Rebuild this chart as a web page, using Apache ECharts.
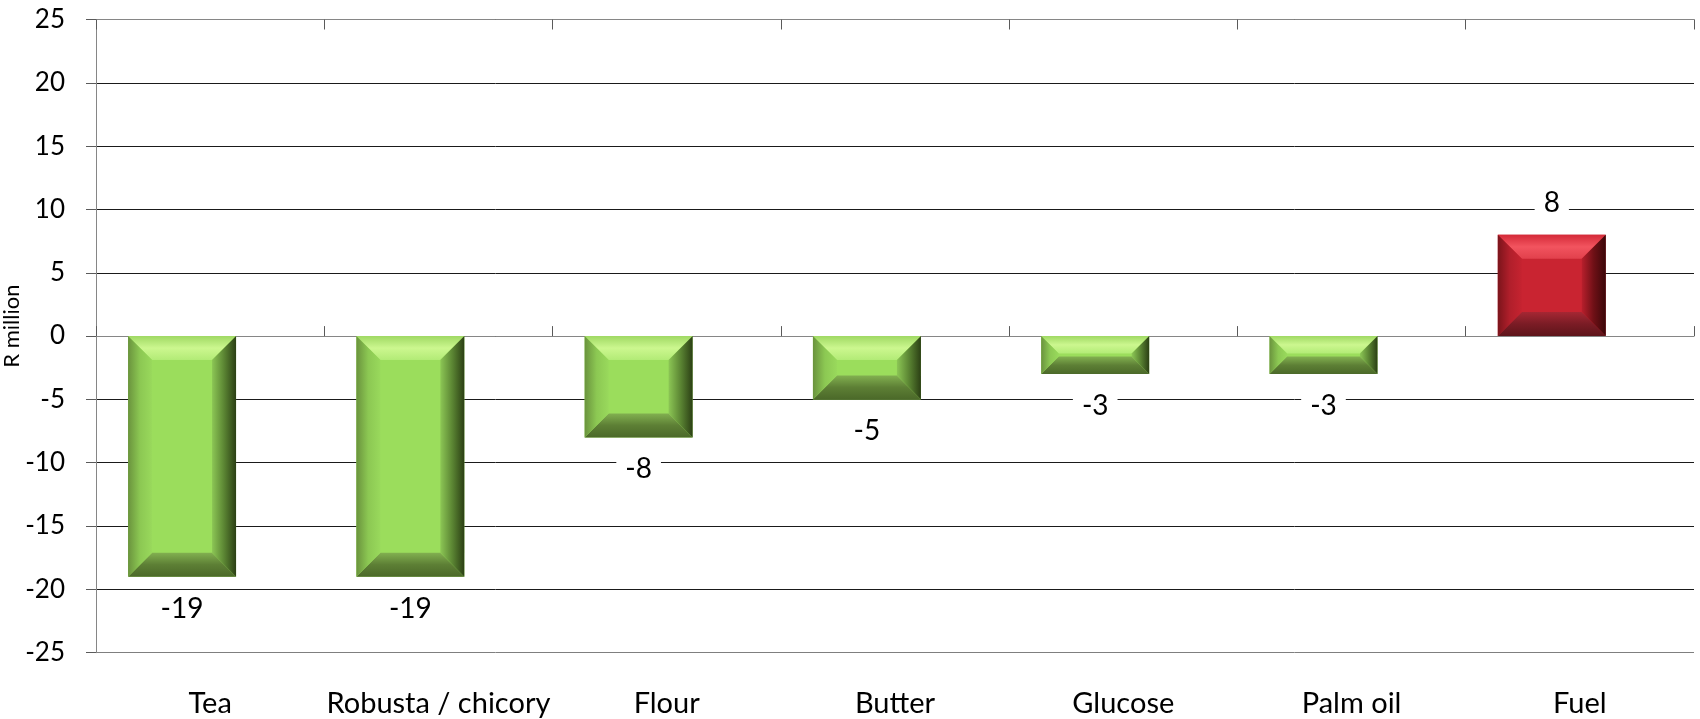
<!DOCTYPE html>
<html>
<head>
<meta charset="utf-8">
<script src="https://cdn.jsdelivr.net/npm/echarts@6/dist/echarts.min.js"></script>
<style>
  html, body { margin: 0; padding: 0; background: #ffffff; }
  #chart { width: 1700px; height: 719px; }
</style>
</head>
<body>
<div id="chart"></div>
<script>
// Year-on-year change in cost per input, R million
const categories = ['Tea', 'Robusta / chicory', 'Flour', 'Butter', 'Glucose', 'Palm oil', 'Fuel'];
const changes = [-19, -19, -8, -5, -3, -3, 8];

// Value axis range and step
const yMin = -25;
const yMax = 25;
const yStep = 5;

const FONT = 'Lato';

// Bevelled bar palettes: savings in green, cost increases in red
const palettes = {
  down: {
    face: '#9bdd5c',
    top: ['#a0d964', '#ccf78f', '#b2eb76'],
    bottom: ['#82b050', '#5d7f35', '#4b6929'],
    left: ['#6a933d', '#8cc853', '#99d95c'],
    right: ['#8cc655', '#5b8533', '#2b3f14']
  },
  up: {
    face: '#c92431',
    top: ['#d42a38', '#f2545f', '#e1404c'],
    bottom: ['#a52733', '#7a1c25', '#5e141a'],
    left: ['#7b141b', '#b11f2b', '#c62330'],
    right: ['#b81f2c', '#6e1016', '#3a0709']
  }
};

function grad(x0, y0, x1, y1, cols) {
  const n = cols.length - 1;
  return new echarts.graphic.LinearGradient(x0, y0, x1, y1,
    cols.map((c, i) => ({ offset: i / n, color: c })));
}

function renderBevelBar(params, api) {
  const idx = api.value(0);
  const v = api.value(1);
  const band = api.size([1, 0])[0];
  const end = api.coord([idx, v]);
  const base = api.coord([idx, 0]);
  const w = band * 0.473;
  const cx = end[0] - band * 0.123;
  const x = cx - w / 2;
  const y = Math.min(end[1], base[1]);
  const h = Math.abs(end[1] - base[1]);
  const b = Math.min(24, h * 0.46, w * 0.46);
  const p = v >= 0 ? palettes.up : palettes.down;

  const children = [
    { type: 'rect', shape: { x: x, y: y, width: w, height: h }, style: { fill: p.face } },
    { type: 'polygon', shape: { points: [[x, y], [x + w, y], [x + w - b, y + b], [x + b, y + b]] },
      style: { fill: grad(0, 0, 0, 1, p.top) } },
    { type: 'polygon', shape: { points: [[x + b, y + h - b], [x + w - b, y + h - b], [x + w, y + h], [x, y + h]] },
      style: { fill: grad(0, 0, 0, 1, p.bottom) } },
    { type: 'polygon', shape: { points: [[x, y], [x + b, y + b], [x + b, y + h - b], [x, y + h]] },
      style: { fill: grad(0, 0, 1, 0, p.left) } },
    { type: 'polygon', shape: { points: [[x + w - b, y + b], [x + w, y], [x + w, y + h], [x + w - b, y + h - b]] },
      style: { fill: grad(0, 0, 1, 0, p.right) } },
    { type: 'text',
      style: {
        text: String(v),
        x: cx,
        y: v < 0 ? y + h + 32 : y - 32,
        align: 'center',
        verticalAlign: 'middle',
        font: '28px ' + FONT,
        fill: '#000000',
        backgroundColor: '#ffffff',
        padding: [3, 9]
      } }
  ];
  return { type: 'group', children: children };
}

const gridLineColors = [];
for (let t = yMin; t <= yMax; t += yStep) {
  gridLineColors.push(t === yMin ? '#7f7f7f' : '#1a1a1a');
}

const chart = echarts.init(document.getElementById('chart'), null, { renderer: 'canvas' });

chart.setOption({
  animation: false,
  backgroundColor: '#ffffff',
  grid: { left: 96, right: 6, top: 19.5, bottom: 66.3, outerBoundsMode: 'none' },
  xAxis: [
    {
      type: 'category',
      data: categories,
      position: 'bottom',
      axisLine: { show: false, onZero: false },
      axisTick: { show: false },
      axisLabel: { interval: 0, margin: 36, fontSize: 29, fontFamily: FONT, color: '#000000' }
    },
    {
      type: 'category',
      data: categories,
      position: 'top',
      axisLine: { show: true, onZero: true, lineStyle: { color: '#868686', width: 1 } },
      axisTick: { show: true, length: 10, lineStyle: { color: '#5a5a5a' } },
      axisLabel: { show: false }
    },
    {
      type: 'category',
      data: categories,
      position: 'top',
      axisLine: { show: true, onZero: true, lineStyle: { color: '#868686', width: 1 } },
      axisTick: { show: true, inside: true, length: 10, lineStyle: { color: '#5a5a5a' } },
      axisLabel: { show: false }
    }
  ],
  yAxis: {
    type: 'value',
    min: yMin,
    max: yMax,
    interval: yStep,
    name: 'R million',
    nameLocation: 'middle',
    nameRotate: 90,
    nameGap: 73,
    nameMoveOverlap: false,
    nameTextStyle: { fontSize: 22, fontFamily: FONT, color: '#000000', padding: [0, 0, 0, 20] },
    axisLine: { show: true, lineStyle: { color: '#868686', width: 1 } },
    axisTick: { show: true, length: 10, lineStyle: { color: '#5a5a5a' } },
    axisLabel: { margin: 31, fontSize: 26, fontFamily: FONT, color: '#000000' },
    splitLine: { show: true, lineStyle: { color: gridLineColors, width: 1 } }
  },
  series: [
    {
      type: 'custom',
      xAxisIndex: 0,
      yAxisIndex: 0,
      renderItem: renderBevelBar,
      encode: { x: 0, y: 1 },
      data: categories.map((c, i) => [i, changes[i]]),
      z: 5
    }
  ]
});
</script>
</body>
</html>
